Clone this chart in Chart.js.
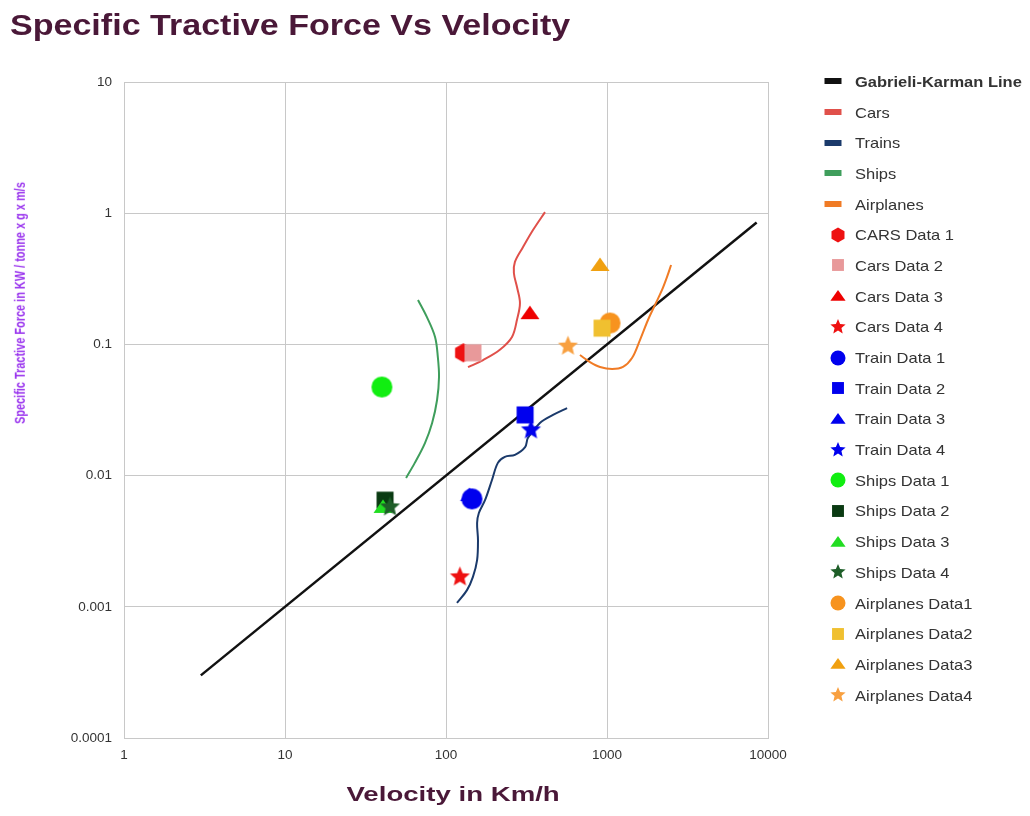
<!DOCTYPE html>
<html><head><meta charset="utf-8">
<script src="https://cdn.jsdelivr.net/npm/chart.js@4.4.1/dist/chart.umd.min.js"></script>
<style>
body{margin:0;background:#fff;width:1030px;height:816px;overflow:hidden;position:relative;font-family:"Liberation Sans",Arial,sans-serif;}
#cv{position:absolute;left:0;top:0;}
.t{position:absolute;white-space:nowrap;transform-origin:50% 50%;}
#title{left:10px;top:9px;font-size:29px;font-weight:bold;color:#4a1838;transform-origin:0 0;}
#ytitle{font-size:14px;font-weight:bold;color:#9933ee;}
#xtitle{font-size:21px;font-weight:bold;color:#4a1838;}
#legend{position:absolute;left:821px;top:66px;}
.li{height:30.7px;display:flex;align-items:center;font-size:15px;color:#333;white-space:nowrap;}
.li canvas{margin-right:8px;}
.li span{display:inline-block;transform-origin:0 50%;transform:scaleX(1.1);}
</style></head><body>
<canvas id="cv" width="1030" height="816"></canvas>
<div id="title" class="t">Specific Tractive Force Vs Velocity</div>
<div id="ytitle" class="t">Specific Tractive Force in KW / tonne x g x m/s</div>
<div id="xtitle" class="t">Velocity in Km/h</div>
<div id="legend"></div>
<script>
// ---- data ----
const xTicks = [1, 10, 100, 1000, 10000];
const yTicks = [0.0001, 0.001, 0.01, 0.1, 1, 10];

const gkX = [3, 8500];
const gkY = [0.0003, 0.85];

const carsX = [137, 170, 216, 257, 276, 288, 276, 264, 268, 301, 347, 412];
const carsY = [0.067, 0.076, 0.091, 0.114, 0.154, 0.207, 0.274, 0.350, 0.425, 0.552, 0.744, 1.02];

const trainsX = [117, 135, 147, 156, 158, 156, 160, 175, 193, 210, 232, 268, 310, 323, 383, 462, 565];
const trainsY = [0.00107, 0.00134, 0.00169, 0.00227, 0.00323, 0.00435, 0.00519, 0.00652, 0.00925, 0.0125, 0.0139, 0.0144, 0.0165, 0.0194, 0.0252, 0.029, 0.0327];

const shipsX = [67, 76, 85.5, 89, 90.5, 88, 82, 74, 64, 56.5];
const shipsY = [0.218, 0.162, 0.114, 0.080, 0.0565, 0.0377, 0.0252, 0.0177, 0.0125, 0.0096];

const planesX = [679, 784, 905, 1075, 1257, 1430, 1602, 1797, 1987, 2197, 2360, 2500];
const planesY = [0.083, 0.0734, 0.0673, 0.0649, 0.0673, 0.0787, 0.108, 0.1535, 0.200, 0.260, 0.327, 0.403];

const markerNames = ["CARS Data 1", "Cars Data 2", "Cars Data 3", "Cars Data 4",
  "Train Data 1", "Train Data 2", "Train Data 3", "Train Data 4",
  "Ships Data 1", "Ships Data 2", "Ships Data 3", "Ships Data 4",
  "Airplanes Data1", "Airplanes Data2", "Airplanes Data3", "Airplanes Data4"];
const markerX = [128, 147, 332, 122, 145, 310, 140, 337, 40, 41.8, 40.6, 44.9, 1044, 931, 905, 572];
const markerY = [0.0863, 0.0863, 0.173, 0.00169, 0.00664, 0.029, 0.0071, 0.0223, 0.0473, 0.0065, 0.00577, 0.00577, 0.1455, 0.133, 0.403, 0.097];

// ---- styles ----
const lineNames = ["Gabrieli-Karman Line", "Cars", "Trains", "Ships", "Airplanes"];
const lineColors = ["#111111", "#e0504a", "#1b3a6b", "#3f9e5c", "#f07b25"];
const markerShapes = ["hex", "rect", "tri", "star", "circle", "rect", "tri", "star", "circle", "rect", "tri", "star", "circle", "rect", "tri", "star"];
const markerColors = ["#ee1111", "#e8999a", "#ee0000", "#ee1111", "#0000ee", "#0000ee", "#0000ee", "#0000ee",
  "#11ee11", "#0a3a12", "#22dd22", "#1e5e28", "#f7931e", "#f0c030", "#f0a010", "#f8a040"];

function drawShape(ctx, shape, cx, cy, s, color) {
  ctx.fillStyle = color;
  ctx.beginPath();
  if (shape === "circle") { ctx.arc(cx, cy, s, 0, Math.PI * 2); }
  else if (shape === "rect") { const h = s * 0.85; ctx.rect(cx - h, cy - h, 2 * h, 2 * h); }
  else if (shape === "tri") { ctx.moveTo(cx, cy - s * 0.75); ctx.lineTo(cx + s * 0.95, cy + s * 0.6); ctx.lineTo(cx - s * 0.95, cy + s * 0.6); ctx.closePath(); }
  else if (shape === "star") {
    for (let i = 0; i < 10; i++) {
      const r = i % 2 === 0 ? s : s * 0.45;
      const a = -Math.PI / 2 + i * Math.PI / 5;
      const px = cx + r * Math.cos(a), py = cy + r * Math.sin(a);
      i === 0 ? ctx.moveTo(px, py) : ctx.lineTo(px, py);
    }
    ctx.closePath();
  } else if (shape === "hex") {
    for (let i = 0; i < 6; i++) {
      const a = -Math.PI / 2 + i * Math.PI / 3;
      const px = cx + s * Math.cos(a), py = cy + s * Math.sin(a);
      i === 0 ? ctx.moveTo(px, py) : ctx.lineTo(px, py);
    }
    ctx.closePath();
  } else if (shape === "line") { ctx.rect(cx - 8.5, cy - 3, 17, 6); }
  ctx.fill();
}
function markerCanvas(shape, s, color) {
  const c = document.createElement("canvas");
  const n = Math.ceil(s * 2 + 4);
  c.width = n; c.height = n;
  drawShape(c.getContext("2d"), shape, n / 2, n / 2, s, color);
  return c;
}
const plotSize = { circle: 10.5, rect: 10, tri: 10, star: 10.5, hex: 9.5 };

const pts = (xs, ys) => xs.map((x, i) => ({ x: x, y: ys[i] }));
const lineData = [pts(gkX, gkY), pts(carsX, carsY), pts(trainsX, trainsY), pts(shipsX, shipsY), pts(planesX, planesY)];

const datasets = [];
lineNames.forEach((n, i) => {
  datasets.push({
    label: n, data: lineData[i], showLine: true, pointRadius: 0, pointHoverRadius: 0,
    borderColor: lineColors[i], backgroundColor: lineColors[i],
    borderWidth: i === 0 ? 2.5 : 2, tension: i === 0 ? 0 : 0.35, fill: false,
    order: 100 - i, legendShape: "line"
  });
});
markerNames.forEach((n, i) => {
  datasets.push({
    label: n, data: [{ x: markerX[i], y: markerY[i] }], showLine: false,
    pointStyle: markerCanvas(markerShapes[i], plotSize[markerShapes[i]], markerColors[i]),
    pointRadius: 10, backgroundColor: markerColors[i], borderColor: markerColors[i],
    order: n === "Train Data 1" ? -100 : -i, legendShape: markerShapes[i]
  });
});

const fmt = v => String(v);
new Chart(document.getElementById("cv"), {
  type: "scatter",
  data: { datasets: datasets },
  options: {
    responsive: false, animation: false, devicePixelRatio: 1,
    layout: { padding: { left: 0, right: 262, top: 82, bottom: 0 } },
    plugins: { legend: { display: false }, tooltip: { enabled: false } },
    scales: {
      x: {
        type: "logarithmic", min: 1, max: 10000,
        afterBuildTicks: s => { s.ticks = xTicks.map(v => ({ value: v })); },
        afterFit: s => { s.height = 78; },
        ticks: { callback: v => fmt(v), color: "#333", font: { family: "Liberation Sans", size: 13.5 }, padding: 9, maxRotation: 0 },
        grid: { color: "#c8c8c8", drawTicks: false }, border: { color: "#c8c8c8" }
      },
      y: {
        type: "logarithmic", min: 0.0001, max: 10,
        afterBuildTicks: s => { s.ticks = yTicks.map(v => ({ value: v })); },
        afterFit: s => { s.width = 124; },
        ticks: { callback: v => fmt(v), color: "#333", font: { family: "Liberation Sans", size: 13.5 }, padding: 12 },
        grid: { color: "#c8c8c8", drawTicks: false }, border: { color: "#c8c8c8" }
      }
    }
  }
});

// legend
const lg = document.getElementById("legend");
datasets.forEach((d, i) => {
  const row = document.createElement("div");
  row.className = "li";
  const sz = { line: 8, circle: 7.5, rect: 7, tri: 8, star: 8, hex: 7.5 }[d.legendShape];
  const c = document.createElement("canvas");
  c.width = 26; c.height = 20;
  const isLine = d.legendShape === "line";
  drawShape(c.getContext("2d"), d.legendShape, isLine ? 12 : 17, 10, sz, isLine ? lineColors[i] : markerColors[i - 5]);
  row.appendChild(c);
  const sp = document.createElement("span");
  sp.textContent = d.label;
  if (i === 0) sp.style.fontWeight = "bold";
  row.appendChild(sp);
  lg.appendChild(row);
});

// titles
function place(id, cx, cy, targetW, rot) {
  const el = document.getElementById(id);
  const w = el.offsetWidth, h = el.offsetHeight;
  el.style.left = (cx - w / 2) + "px";
  el.style.top = (cy - h / 2) + "px";
  const s = targetW / w;
  el.style.transform = (rot ? "rotate(-90deg) " : "") + "scaleX(" + s + ")";
}
place("ytitle", 20, 303, 242, true);
place("xtitle", 453, 794, 213, false);
const t = document.getElementById("title");
t.style.transform = "scaleX(" + (560 / t.offsetWidth) + ")";
</script>
</body></html>
